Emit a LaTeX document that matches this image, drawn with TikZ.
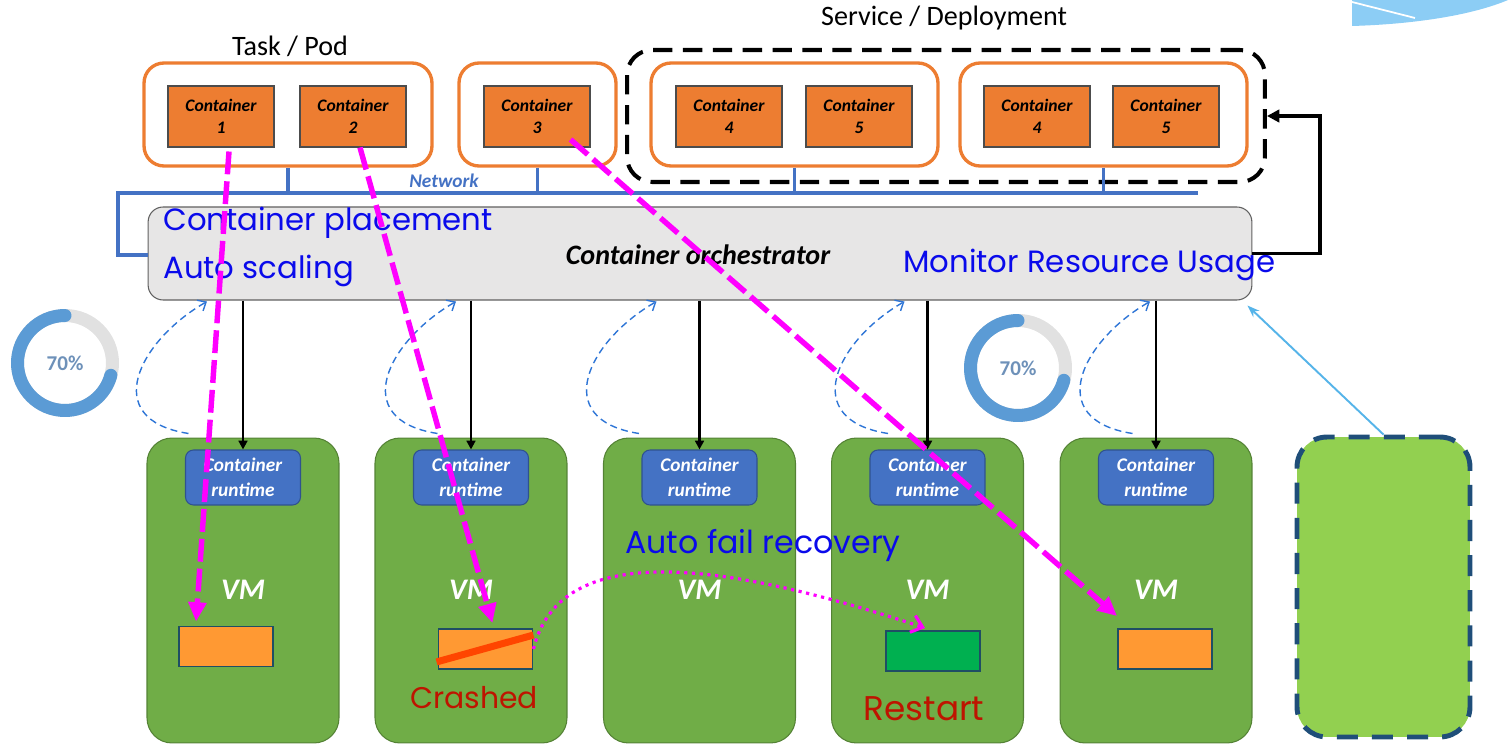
\documentclass[tikz,border=0pt]{standalone}
\usepackage{fontspec}
\setmainfont{Carlito}
\newfontfamily\geofont{Poppins}
\usepackage{tikz}
\usetikzlibrary{
  arrows.meta,
  positioning,
  calc
}
\definecolor{podorange}{RGB}{237,125,49}
\definecolor{netblue}{RGB}{68,114,196}
\definecolor{orchgray}{RGB}{231,230,230}
\definecolor{vmgreen}{RGB}{112,173,71}
\definecolor{vmedge}{RGB}{84,130,53}
\definecolor{rtedge}{RGB}{47,82,143}
\definecolor{slotorange}{RGB}{255,153,51}
\definecolor{slotgreen}{RGB}{0,176,80}
\definecolor{slotedge}{RGB}{31,78,100}
\definecolor{crashred}{RGB}{255,69,0}
\definecolor{labelred}{RGB}{190,20,0}
\definecolor{featblue}{RGB}{10,10,235}
\definecolor{hintblue}{RGB}{46,117,214}
\definecolor{donutblue}{RGB}{91,155,213}
\definecolor{donutgray}{RGB}{225,225,225}
\definecolor{loadtext}{RGB}{110,145,185}
\definecolor{sparegreen}{RGB}{146,208,80}
\definecolor{spareedge}{RGB}{31,78,121}
\definecolor{skyline}{RGB}{86,180,233}
\definecolor{decor}{RGB}{140,205,245}
\definecolor{placemag}{RGB}{255,0,255}

\begin{document}
\begin{tikzpicture}[
  x=0.02cm, y=-0.02cm,
  pod/.style={draw=podorange, line width=1.9pt, rounded corners=0.4cm,
    minimum width=#1, minimum height=2.06cm, inner sep=0},
  ctr/.style={draw=gray!60!black, line width=0.6pt, fill=podorange,
    minimum width=2.12cm, minimum height=1.22cm, inner sep=0, align=center,
    font=\fontsize{10}{12.5}\selectfont\bfseries\itshape},
  group/.style={draw=black, line width=2.3pt, dash pattern=on 11pt off 6pt,
    rounded corners=0.5cm, minimum width=12.76cm, minimum height=2.64cm, inner sep=0},
  net/.style={draw=netblue, line width=2.2pt},
  orch/.style={draw=gray!75!black, line width=0.6pt, fill=orchgray, rounded corners=0.3cm,
    minimum width=22.08cm, minimum height=1.86cm, inner sep=0},
  vm/.style={draw=vmedge, line width=0.6pt, fill=vmgreen, rounded corners=0.5cm,
    minimum width=3.84cm, minimum height=6.1cm, inner sep=0},
  runtime/.style={draw=rtedge, line width=0.6pt, fill=netblue, rounded corners=0.16cm,
    minimum width=2.3cm, minimum height=1.1cm, inner sep=0, align=center, text=white,
    font=\fontsize{11}{14}\selectfont\bfseries\itshape},
  vmlabel/.style={text=white, inner sep=0, font=\fontsize{17}{18}\selectfont\bfseries\itshape},
  slot/.style={draw=slotedge, line width=1.1pt, minimum width=1.88cm, minimum height=0.8cm, inner sep=0},
  spare/.style={draw=spareedge, fill=sparegreen, line width=2.8pt, dash pattern=on 12pt off 8pt,
    rounded corners=0.6cm, minimum width=3.46cm, minimum height=6cm, inner sep=0},
  titlelabel/.style={inner sep=0, font=\fontsize{16}{18}\selectfont},
  netlabel/.style={inner sep=0, text=netblue, font=\fontsize{11}{12}\selectfont\bfseries\itshape},
  orchlabel/.style={inner sep=0, font=\fontsize{16}{18}\selectfont\bfseries\itshape},
  feature/.style={inner sep=0, text=featblue, font=\geofont\fontsize{17.5}{20}\selectfont},
  statuslabel/.style={inner sep=0, text=labelred, font=\geofont\fontsize{17}{20}\selectfont},
  loadlabel/.style={inner sep=0, text=loadtext, font=\fontsize{12}{13}\selectfont\bfseries},
  ctrl/.style={draw=black, line width=1.3pt, -{Triangle[length=5pt,width=5pt]}},
  feedback/.style={draw=black, line width=2pt, -{Triangle[length=7pt,width=7pt]}},
  hint/.style={draw=hintblue, line width=0.8pt, dash pattern=on 4pt off 2.5pt,
    -{Straight Barb[length=4pt,width=7pt]}},
  place/.style={draw=placemag, line width=3.1pt, dash pattern=on 13pt off 4pt,
    -{Triangle[length=11pt,width=10pt]}},
  recover/.style={draw=placemag, line width=1.8pt, dash pattern=on 1.8pt off 2.6pt,
    -{Straight Barb[length=6pt,width=10pt]}},
  sensor/.style={draw=skyline, line width=1.1pt, -{Stealth[length=7pt,width=5pt]}},
  crash/.style={draw=crashred, line width=4pt}
]
\useasboundingbox (0,0) rectangle (1508,756);

% ============ CORNER DECOR ============
\fill[decor] (1352,0) -- (1352,26) .. controls (1420,24) and (1475,14) .. (1508,0) -- cycle;
\draw[white, line width=1pt] (1352,2) -- (1415,18);

% ============ PODS AND CONTAINERS ============
\node[titlelabel] (podtitle) at (290,46) {Task / Pod};
\node[titlelabel] (svctitle) at (944,18) {Service / Deployment};
\node[group] (group) at (946,116) {};
\node[pod=5.76cm] (pod1) at (288,114.5) {};
\node[pod=3.14cm] (pod2) at (537.5,114.5) {};
\node[pod=5.74cm] (pod3) at (794.5,114.5) {};
\node[pod=5.74cm] (pod4) at (1103.5,114.5) {};
\node[ctr] (c1) at (221,116.5) {Container\\1};
\node[ctr] (c2) at (353,116.5) {Container\\2};
\node[ctr] (c3) at (537,116.5) {Container\\3};
\node[ctr] (c4a) at (729,116.5) {Container\\4};
\node[ctr] (c5a) at (859,116.5) {Container\\5};
\node[ctr] (c4b) at (1037,116.5) {Container\\4};
\node[ctr] (c5b) at (1166,116.5) {Container\\5};

% ============ NETWORK ============
\coordinate (netL) at (118,193);
\coordinate (netR) at (1198,193);
\coordinate (netB) at (118,255);
\node[orch] (orch) at (700,253.5) {};
\draw[net] (netR) -- (netL) -- (netB) -- (netB -| orch.west);
\foreach \p in {1,2,3,4}
  \draw[net] (pod\p.south) -- (pod\p.south |- netL);
\node[netlabel] (netlabel) at (444,181) {Network};

% ============ ORCHESTRATOR ============
\node[orchlabel] (orchlabel) at (698,255) {Container orchestrator};
\node[feature, anchor=west] (placement) at (163,223) {Container placement};
\node[feature, anchor=west] (scaling) at (163,271) {Auto scaling};
\node[feature, anchor=west] (monitor) at (903,265) {Monitor Resource Usage};
\coordinate (fbturn) at (1320,253.5);
\draw[feedback] (orch.east) -- (fbturn) |- (group.east);

% ============ VMS ============
\foreach \i/\cx in {1/243, 2/471, 3/699.5, 4/927.5, 5/1156} {
  \node[vm] (vm\i) at (\cx,590.5) {};
  \node[runtime] (rt\i) at (\cx,477.5) {Container\\runtime};
  \node[vmlabel] (vml\i) at (\cx,590) {VM};
  \draw[ctrl] (rt\i.north |- orch.south) -- (rt\i.north);
}
\foreach \i/\ds/\dt in {1/42/-36, 2/63/-15, 3/36/-43, 4/57/-23, 5/73/-6}
  \draw[hint] ($(vm\i.north west)+(\ds,-4)$) .. controls +(-90,-14) and +(-68,39)
    .. ($(rt\i.north |- orch.south)+(\dt,1)$);

\node[slot, fill=slotorange] (slot1) at (226,646.5) {};
\node[slot, fill=slotorange] (slot2) at (485.5,649) {};
\node[slot, fill=slotgreen] (slot4) at (933,651) {};
\node[slot, fill=slotorange] (slot5) at (1165,649) {};
\draw[crash] ($(slot2.south west)+(-1,-8)$) -- ($(slot2.north east)+(0,7)$);
\node[statuslabel] (crashed) at (474,698) {Crashed};
\node[statuslabel, font=\geofont\fontsize{19.5}{22}\selectfont] (restart) at (924,709) {Restart};
\node[feature, font=\geofont\fontsize{18}{20}\selectfont] (recovery) at (763,545) {Auto fail recovery};

% ============ SPARE NODE ============
\node[spare] (spare) at (1383.5,587) {};
\draw[sensor] (spare.north) -- ($(orch.south east)+(-5,5)$);

% ============ LOAD DONUTS ============
\foreach \n/\dx/\dy in {1/65/363, 2/1018/368} {
  \begin{scope}[shift={(\dx,\dy)}, x=1cm, y=1cm]
    \draw[donutgray, line width=0.26cm] (0,0) circle (0.95);
    \draw[donutblue, line width=0.26cm, line cap=round] (90:0.95) arc[start angle=90, end angle=345, radius=0.95];
    \node[loadlabel] (load\n) at (0,0) {70\%};
  \end{scope}
}

% ============ PLACEMENT AND RECOVERY ============
\draw[place] ($(c1.south)+(8,4)$) -- ($(slot1.north west)+(18,-4)$);
\draw[place] ($(c2.south)+(7,0)$) -- ($(slot2.north)+(7,-5)$);
\draw[place] ($(c3.south east)+(-20,-8)$) -- ($(slot5.north west)+(0,-12)$);
\draw[recover] (slot2.east) .. controls (560,540) and (720,560) .. ($(slot4.north)+(-8,-2)$);

\end{tikzpicture}
\end{document}
